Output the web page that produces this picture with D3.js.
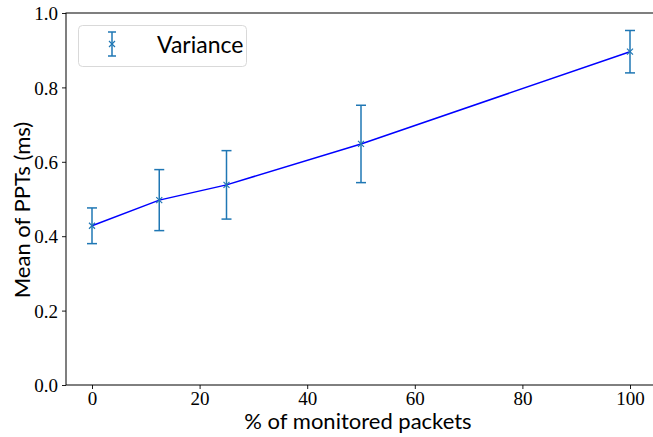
<!DOCTYPE html>
<html><head><meta charset="utf-8">
<script src="https://cdn.jsdelivr.net/npm/d3@7"></script>
<style>body{margin:0;background:#fff}svg{display:block}</style>
</head><body>
<svg id="c" width="653" height="437"></svg>
<script>
const xValues = [0, 12.5, 25, 50, 100];
const meanValues = [0.428, 0.497, 0.538, 0.648, 0.896];
const errValues = [0.048, 0.082, 0.092, 0.104, 0.057];
const xTicks = [0, 20, 40, 60, 80, 100];
const yTicks = [0.0, 0.2, 0.4, 0.6, 0.8, 1.0];
const legendLabel = "Variance";
const xLabel = "% of monitored packets";
const yLabel = "Mean of PPTs (ms)";

const svg = d3.select("#c");
const L = 66, T = 13, B = 385;
const x = d3.scaleLinear().domain([-5, 105]).range([92 - 5*5.38, 92 + 105*5.38]);
const y = d3.scaleLinear().domain([0, 1]).range([B, T]);
const tickFont = "'Liberation Serif','DejaVu Serif',serif";
const labelFont = "Lato,'Noto Sans',sans-serif";

// axes
const xa = svg.append("g").attr("transform", `translate(0,${B})`)
  .call(d3.axisBottom(x).tickValues(xTicks).tickFormat(d3.format("d")).tickSize(4).tickPadding(4));
const ya = svg.append("g").attr("transform", `translate(${L},0)`)
  .call(d3.axisLeft(y).tickValues(yTicks).tickFormat(d3.format(".1f")).tickSize(4).tickPadding(4));
[xa, ya].forEach(a => {
  a.select(".domain").remove();
  a.selectAll("text").attr("font-family", tickFont).attr("font-size", 19).attr("fill", "#000");
  a.selectAll("line").attr("stroke", "#000").attr("stroke-width", 0.9);
});
xa.selectAll("text").attr("dy", null).attr("y", 20);
ya.selectAll("text").attr("dy", "0.35em");

// frame
svg.append("rect").attr("x", L).attr("y", T).attr("width", x(105) - L).attr("height", B - T)
  .attr("fill", "none").attr("stroke", "#000").attr("stroke-width", 1);

// line
const pts = xValues.map((v, i) => [v, meanValues[i], errValues[i]]);
svg.append("path").datum(pts)
  .attr("d", d3.line().x(d => x(d[0])).y(d => y(d[1])))
  .attr("fill", "none").attr("stroke", "#0000ff").attr("stroke-width", 1.5);

const ec = "#1f77b4";
const eb = svg.append("g");
pts.forEach(d => {
  const cx = x(d[0]);
  eb.append("line").attr("x1", cx).attr("x2", cx).attr("y1", y(d[1] - d[2])).attr("y2", y(d[1] + d[2]))
    .attr("stroke", ec).attr("stroke-width", 1.5);
  [d[1] - d[2], d[1] + d[2]].forEach(v => {
    eb.append("line").attr("x1", cx - 5).attr("x2", cx + 5).attr("y1", y(v)).attr("y2", y(v))
      .attr("stroke", ec).attr("stroke-width", 1.5);
  });
  const cy = y(d[1]), s = 3;
  eb.append("path").attr("d", `M${cx-s},${cy-s}L${cx+s},${cy+s}M${cx-s},${cy+s}L${cx+s},${cy-s}`)
    .attr("stroke", ec).attr("stroke-width", 1.2);
});

// legend
svg.append("rect").attr("x", 78.5).attr("y", 25.5).attr("width", 168).attr("height", 41).attr("rx", 4)
  .attr("fill", "#fff").attr("stroke", "#d9d9d9").attr("stroke-width", 1);
const lx = 112, ly = 44;
svg.append("line").attr("x1", lx).attr("x2", lx).attr("y1", 32).attr("y2", 56).attr("stroke", ec).attr("stroke-width", 1.5);
[32, 56].forEach(v => svg.append("line").attr("x1", lx - 4).attr("x2", lx + 4).attr("y1", v).attr("y2", v).attr("stroke", ec).attr("stroke-width", 1.5));
svg.append("path").attr("d", `M${lx-3},${ly-3}L${lx+3},${ly+3}M${lx-3},${ly+3}L${lx+3},${ly-3}`).attr("stroke", ec).attr("stroke-width", 1.2);
svg.append("text").attr("x", 157).attr("y", 53).text(legendLabel)
  .attr("font-family", labelFont).attr("font-size", 23).attr("fill", "#000");

// axis labels
svg.append("text").attr("x", 358).attr("y", 429).attr("text-anchor", "middle").text(xLabel)
  .attr("font-family", labelFont).attr("font-size", 22).attr("fill", "#000");
svg.append("text").attr("transform", "translate(30,210) rotate(-90)").attr("text-anchor", "middle").text(yLabel)
  .attr("font-family", labelFont).attr("font-size", 22).attr("fill", "#000");
</script>
</body></html>
